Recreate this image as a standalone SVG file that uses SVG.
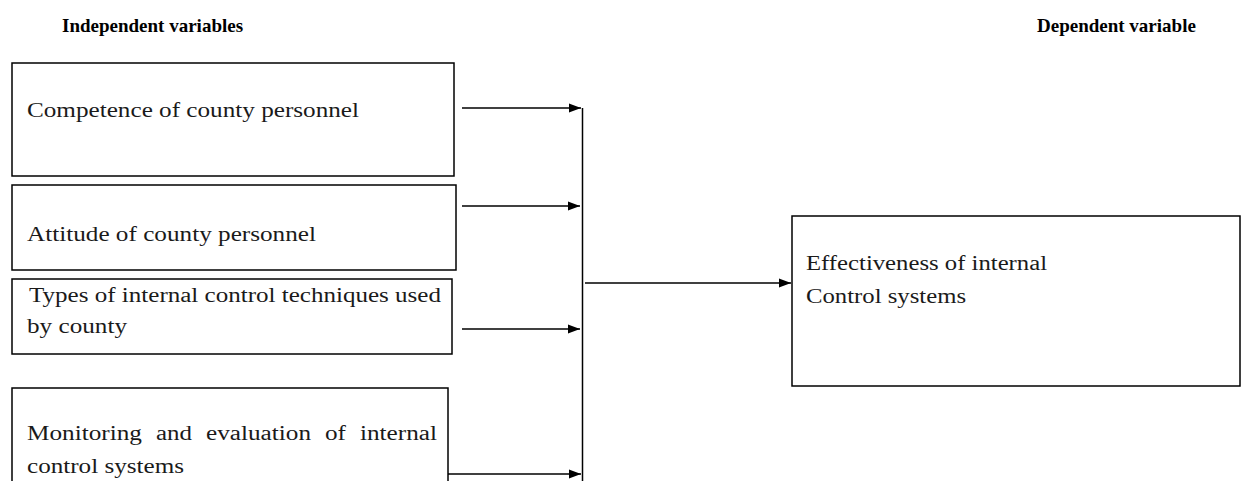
<svg xmlns="http://www.w3.org/2000/svg" width="1241" height="481" viewBox="0 0 1241 481">
  <style>
    .box { fill: #ffffff; stroke: #000000; stroke-width: 1.5; }
    .head { font-family: "Liberation Serif", "Times New Roman", serif; font-size: 19px; font-weight: bold; fill: #000000; }
    .lbl { font-family: "Liberation Serif", "Times New Roman", serif; font-size: 20px; fill: #1a1a1a; }
    .wire { fill: none; stroke: #000000; stroke-width: 1.5; }
  </style>
  <defs>
    <marker id="arrow" viewBox="0 0 12 10" refX="12" refY="5" markerWidth="12" markerHeight="10" orient="auto" markerUnits="userSpaceOnUse">
      <path d="M0,0.5 L12,5 L0,9.5 Z" fill="#000000"/>
    </marker>
  </defs>
  <rect width="1241" height="481" fill="#ffffff"/>

  <text class="head" x="62" y="32">Independent variables</text>
  <text class="head" x="1037" y="32">Dependent variable</text>

  <g id="node-competence">
    <rect class="box" x="12" y="63" width="442" height="113"/>
    <text class="lbl" x="27" y="117" textLength="332" lengthAdjust="spacingAndGlyphs">Competence of county personnel</text>
  </g>
  <g id="node-attitude">
    <rect class="box" x="12" y="185" width="444" height="85"/>
    <text class="lbl" x="27" y="241" textLength="289" lengthAdjust="spacingAndGlyphs">Attitude of county personnel</text>
  </g>
  <g id="node-techniques">
    <rect class="box" x="12" y="279" width="440" height="75"/>
    <text class="lbl" x="29" y="302" textLength="412" lengthAdjust="spacingAndGlyphs">Types of internal control techniques used</text>
    <text class="lbl" x="27" y="333" textLength="100" lengthAdjust="spacingAndGlyphs">by county</text>
  </g>
  <g id="node-monitoring">
    <rect class="box" x="12" y="388" width="436" height="100"/>
    <!-- justified line: each word placed on its own -->
    <text class="lbl" x="27" y="440" textLength="115" lengthAdjust="spacingAndGlyphs">Monitoring</text>
    <text class="lbl" x="156" y="440" textLength="36" lengthAdjust="spacingAndGlyphs">and</text>
    <text class="lbl" x="206" y="440" textLength="105" lengthAdjust="spacingAndGlyphs">evaluation</text>
    <text class="lbl" x="325" y="440" textLength="21" lengthAdjust="spacingAndGlyphs">of</text>
    <text class="lbl" x="360" y="440" textLength="77" lengthAdjust="spacingAndGlyphs">internal</text>
    <text class="lbl" x="27" y="473" textLength="157" lengthAdjust="spacingAndGlyphs">control systems</text>
  </g>
  <g id="node-effectiveness">
    <rect class="box" x="792" y="216" width="448" height="170"/>
    <text class="lbl" x="806" y="270" textLength="241" lengthAdjust="spacingAndGlyphs">Effectiveness of internal</text>
    <text class="lbl" x="806" y="303" textLength="160" lengthAdjust="spacingAndGlyphs">Control systems</text>
  </g>

  <g id="connectors">
    <line class="wire" x1="462" y1="108" x2="581" y2="108" marker-end="url(#arrow)"/>
    <line class="wire" x1="462" y1="206" x2="580" y2="206" marker-end="url(#arrow)"/>
    <line class="wire" x1="462" y1="329" x2="580" y2="329" marker-end="url(#arrow)"/>
    <line class="wire" x1="448" y1="474" x2="581" y2="474" marker-end="url(#arrow)"/>
    <line class="wire" x1="582.5" y1="108" x2="582.5" y2="481"/>
    <line class="wire" x1="585" y1="283" x2="791" y2="283" marker-end="url(#arrow)"/>
  </g>
</svg>
